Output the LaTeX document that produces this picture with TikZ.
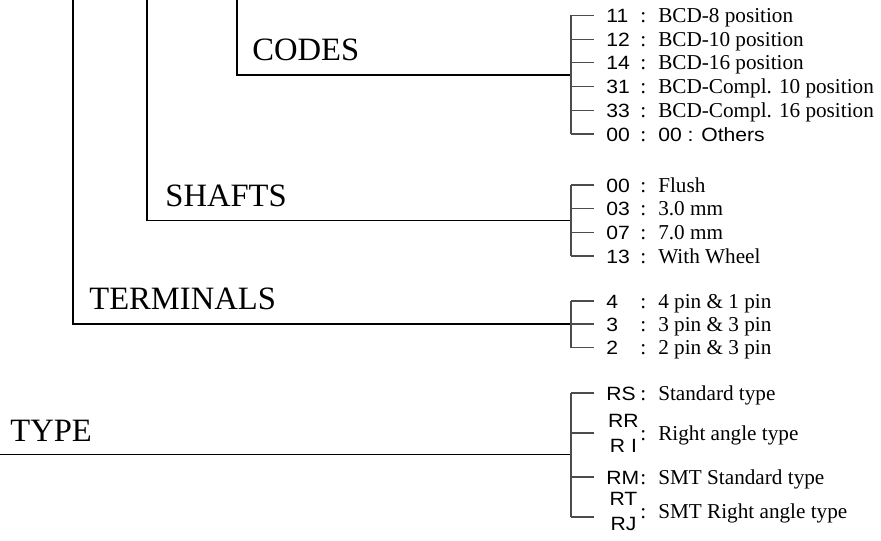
\documentclass[tikz,border=0pt]{standalone}
\usepackage{fontspec}
\setmainfont{Liberation Serif}
\newfontfamily\numfont[FakeStretch=1.1]{Liberation Sans}

\tikzset{
  stem/.style={line width=0.8pt},
  tick/.style={line width=0.6pt, black!70},
  grouplabel/.style={anchor=base west, inner sep=0pt, font=\fontsize{16.3}{19}\selectfont},
  item/.style={anchor=west, inner sep=0pt, text height=7.5pt, text depth=0.5pt,
    font=\fontsize{10.6}{12.5}\selectfont},
}
\newcommand{\code}[2]{\makebox[17pt][l]{\numfont\fontsize{9.6}{12.5}\selectfont #1}:\hspace{6pt}#2}
\newcommand{\codetwo}[3]{\makebox[17pt][c]{\numfont\fontsize{9.6}{12.5}\selectfont
  \begin{tabular}{@{}c@{}}#1\\#2\end{tabular}}:\hspace{6pt}#3}

\begin{document}
\begin{tikzpicture}[x=0.5pt,y=-0.5pt]
\useasboundingbox (0,0) rectangle (881,540);

% codes
\coordinate (codes-top) at (237,0);
\coordinate (codes-brk) at (571,74.75);
\node[grouplabel] (codes) at (252,61) {CODES};
\node[item] (c1) at (606,15.5) {\code{11}{BCD-8 position}};
\node[item] (c2) at (606,39.2) {\code{12}{BCD-10 position}};
\node[item] (c3) at (606,62.9) {\code{14}{BCD-16 position}};
\node[item] (c4) at (606,86.6) {\code{31}{BCD-Compl. 10 position}};
\node[item] (c5) at (606,110.3) {\code{33}{BCD-Compl. 16 position}};
\node[item] (c6) at (606,134) {\code{00}{\numfont\fontsize{9.6}{12.5}\selectfont 00 : Others}};
\draw[stem] (codes-top) |- (codes-brk);
\draw[tick] (codes-brk |- c1.west) -- (codes-brk |- c6.west);
\draw[tick] (codes-brk |- c1.west) -- ([xshift=-6pt]c1.west);
\draw[tick] (codes-brk |- c2.west) -- ([xshift=-6pt]c2.west);
\draw[tick] (codes-brk |- c3.west) -- ([xshift=-6pt]c3.west);
\draw[tick] (codes-brk |- c4.west) -- ([xshift=-6pt]c4.west);
\draw[tick] (codes-brk |- c5.west) -- ([xshift=-6pt]c5.west);
\draw[tick] (codes-brk |- c6.west) -- ([xshift=-6pt]c6.west);

% shafts
\coordinate (shafts-top) at (147,0);
\coordinate (shafts-brk) at (571,220.5);
\node[grouplabel] (shafts) at (165,206.5) {SHAFTS};
\node[item] (s1) at (606,185) {\code{00}{Flush}};
\node[item] (s2) at (606,208.7) {\code{03}{3.0 mm}};
\node[item] (s3) at (606,232.4) {\code{07}{7.0 mm}};
\node[item] (s4) at (606,256) {\code{13}{With Wheel}};
\draw[stem] (shafts-top) |- (shafts-brk);
\draw[tick] (shafts-brk |- s1.west) -- (shafts-brk |- s4.west);
\draw[tick] (shafts-brk |- s1.west) -- ([xshift=-6pt]s1.west);
\draw[tick] (shafts-brk |- s2.west) -- ([xshift=-6pt]s2.west);
\draw[tick] (shafts-brk |- s3.west) -- ([xshift=-6pt]s3.west);
\draw[tick] (shafts-brk |- s4.west) -- ([xshift=-6pt]s4.west);

% terminals
\coordinate (term-top) at (73,0);
\coordinate (term-brk) at (571,324);
\node[grouplabel] (terminals) at (89,309) {TERMINALS};
\node[item] (p1) at (606,301) {\code{4}{4 pin \& 1 pin}};
\node[item] (p2) at (606,324) {\code{3}{3 pin \& 3 pin}};
\node[item] (p3) at (606,347.5) {\code{2}{2 pin \& 3 pin}};
\draw[stem] (term-top) |- (term-brk);
\draw[tick] (term-brk |- p1.west) -- (term-brk |- p3.west);
\draw[tick] (term-brk |- p1.west) -- ([xshift=-6pt]p1.west);
\draw[tick] (term-brk |- p2.west) -- ([xshift=-6pt]p2.west);
\draw[tick] (term-brk |- p3.west) -- ([xshift=-6pt]p3.west);

% type
\coordinate (type-start) at (0,454.5);
\coordinate (type-brk) at (571,454.5);
\node[grouplabel] (type) at (10,441) {TYPE};
\node[item] (t1) at (606,393) {\code{RS}{Standard type}};
\node[item] (t2) at (606,433) {\codetwo{RR}{R I}{Right angle type}};
\node[item] (t3) at (606,477) {\code{RM}{SMT Standard type}};
\node[item] (t4) at (606,511) {\codetwo{RT}{RJ}{SMT Right angle type}};
\draw[stem] (type-start) -- (type-brk);
\draw[tick] (type-brk |- t1.west) -- ([yshift=-3pt]type-brk |- t4.west);
\draw[tick] (type-brk |- t1.west) -- ([xshift=-6pt]t1.west);
\draw[tick] (type-brk |- t2.west) -- ([xshift=-6pt]t2.west);
\draw[tick] (type-brk |- t3.west) -- ([xshift=-6pt]t3.west);
\draw[tick] ([yshift=-3pt]type-brk |- t4.west) -- ([xshift=-6pt,yshift=-3pt]t4.west);
\end{tikzpicture}
\end{document}
